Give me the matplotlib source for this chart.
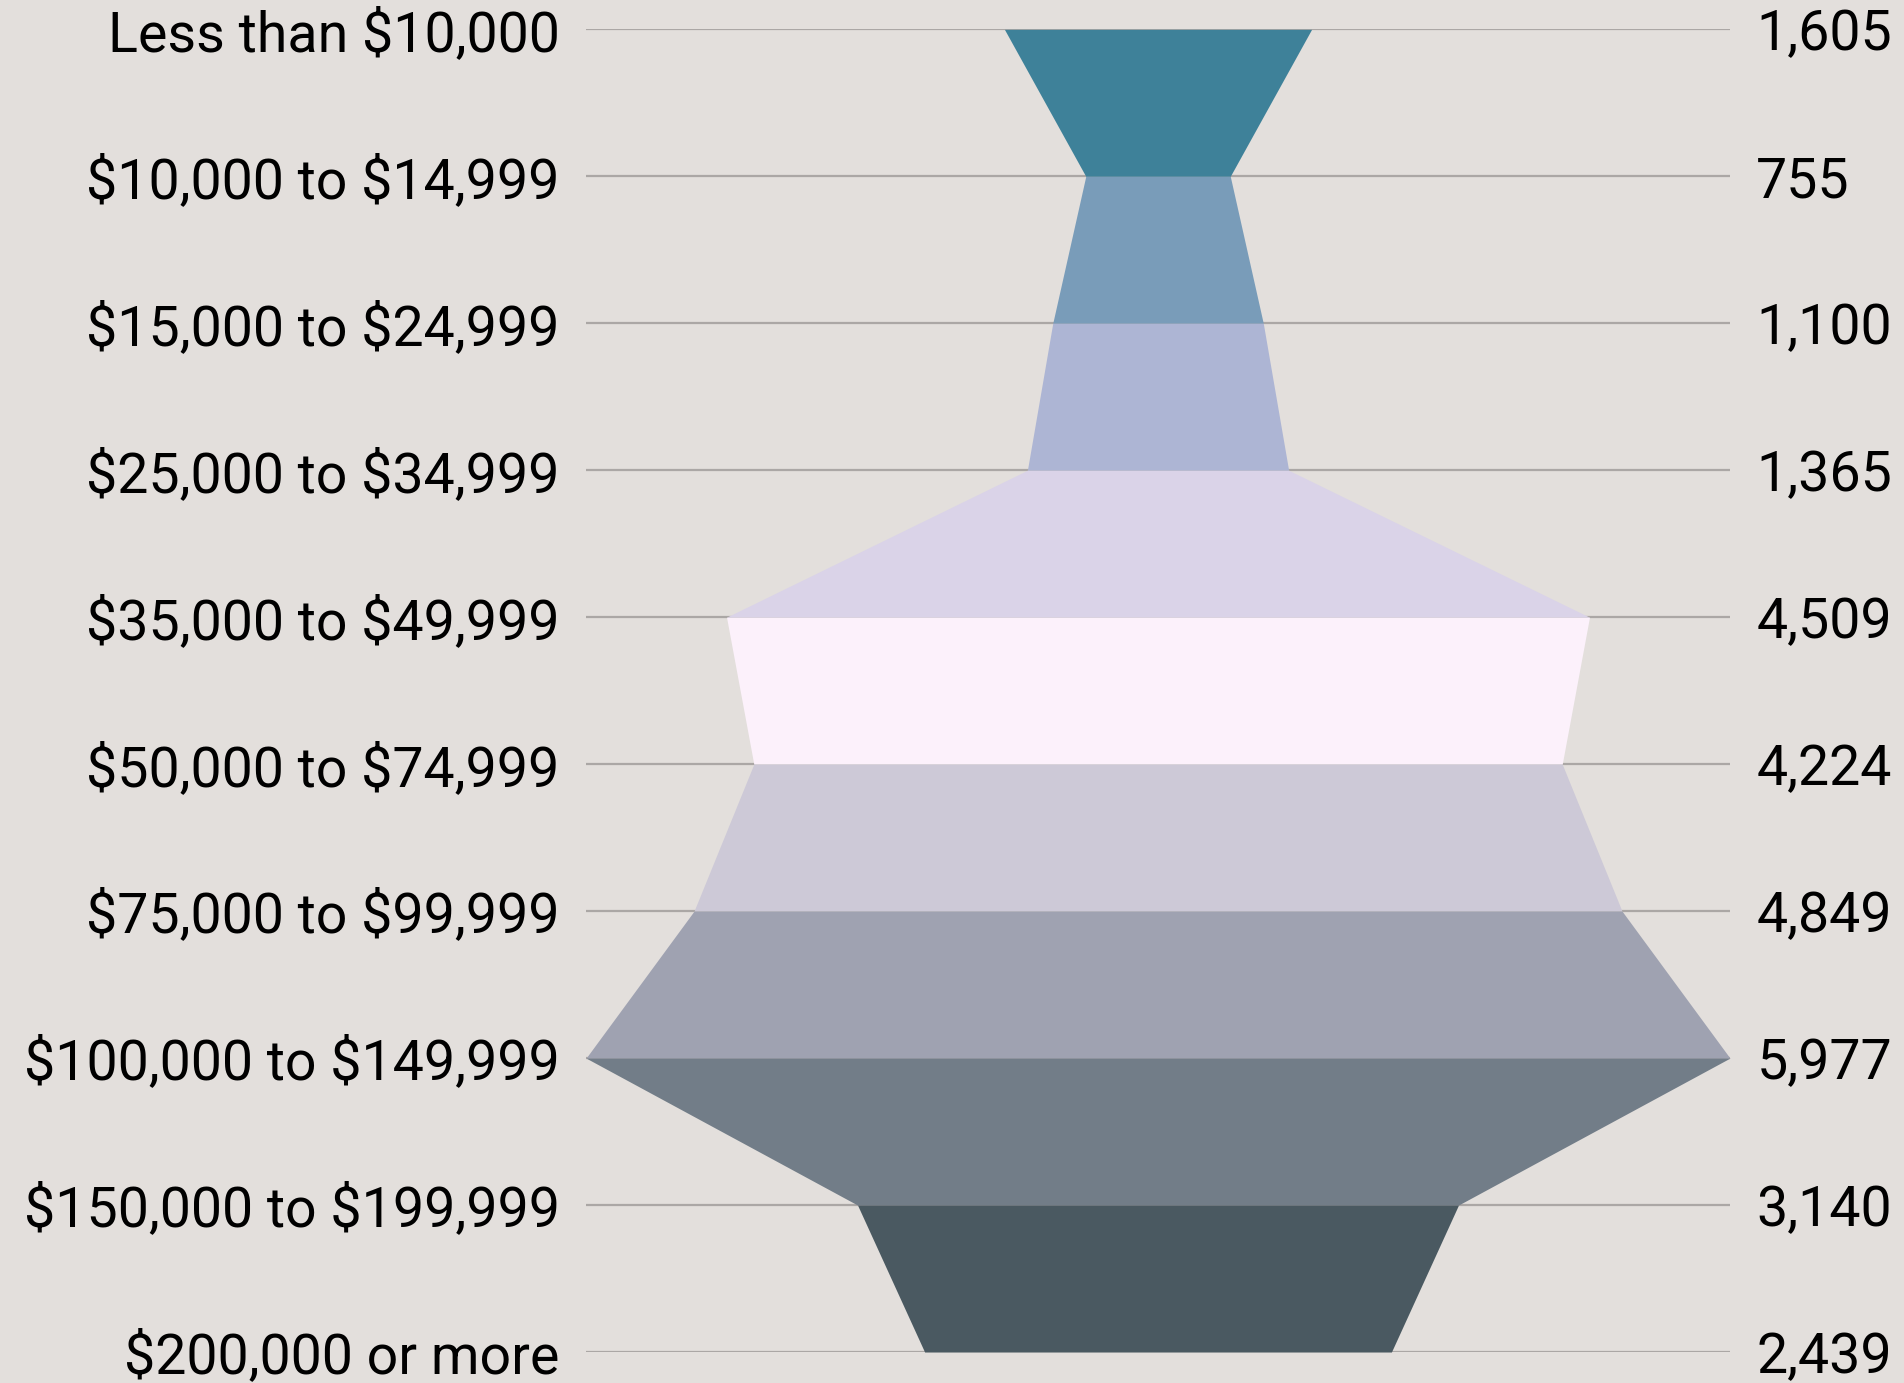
import matplotlib.pyplot as plt
import numpy as np

# household income brackets and counts
categories = ["Less than $10,000", "$10,000 to $14,999", "$15,000 to $24,999",
              "$25,000 to $34,999", "$35,000 to $49,999", "$50,000 to $74,999",
              "$75,000 to $99,999", "$100,000 to $149,999", "$150,000 to $199,999",
              "$200,000 or more"]
values = [1605, 755, 1100, 1365, 4509, 4224, 4849, 5977, 3140, 2439]
band_colors = ["#3E8199", "#799CB9", "#ADB5D4", "#DAD3E8", "#FCF1FB",
               "#CDC9D7", "#9FA2B1", "#727D88", "#4A5961"]

bg = "#E3DFDC"
plt.rcParams["font.family"] = ["Roboto", "DejaVu Sans"]

fig = plt.figure(figsize=(19.04, 13.83), dpi=100, facecolor=bg)
ax = fig.add_axes([0.3078, 0.0224, 0.6008, 0.9564])
ax.set_facecolor(bg)

pos = np.arange(len(categories))
vmax = max(values)

for y in pos:
    ax.axhline(y, color="#ABA7A5", lw=1.6, zorder=1)

for i, c in enumerate(band_colors):
    ax.fill_betweenx([pos[i], pos[i + 1]],
                     [-values[i], -values[i + 1]],
                     [values[i], values[i + 1]],
                     color=c, lw=0, zorder=2)

ax.set_xlim(-vmax, vmax)
ax.set_ylim(pos[-1], pos[0])
ax.set_xticks([])
ax.set_yticks(pos)
ax.set_yticklabels([c.replace("$", r"\$") for c in categories], fontsize=40)
ax.tick_params(axis="y", length=0, pad=19)
for s in ax.spines.values():
    s.set_visible(False)

ax2 = ax.twinx()
ax2.set_ylim(pos[-1], pos[0])
ax2.set_yticks(pos)
ax2.set_yticklabels([f"{v:,}" for v in values], fontsize=40)
ax2.tick_params(axis="y", length=0, pad=19)
for s in ax2.spines.values():
    s.set_visible(False)

fig.savefig("out.png", dpi=100, facecolor=bg)
